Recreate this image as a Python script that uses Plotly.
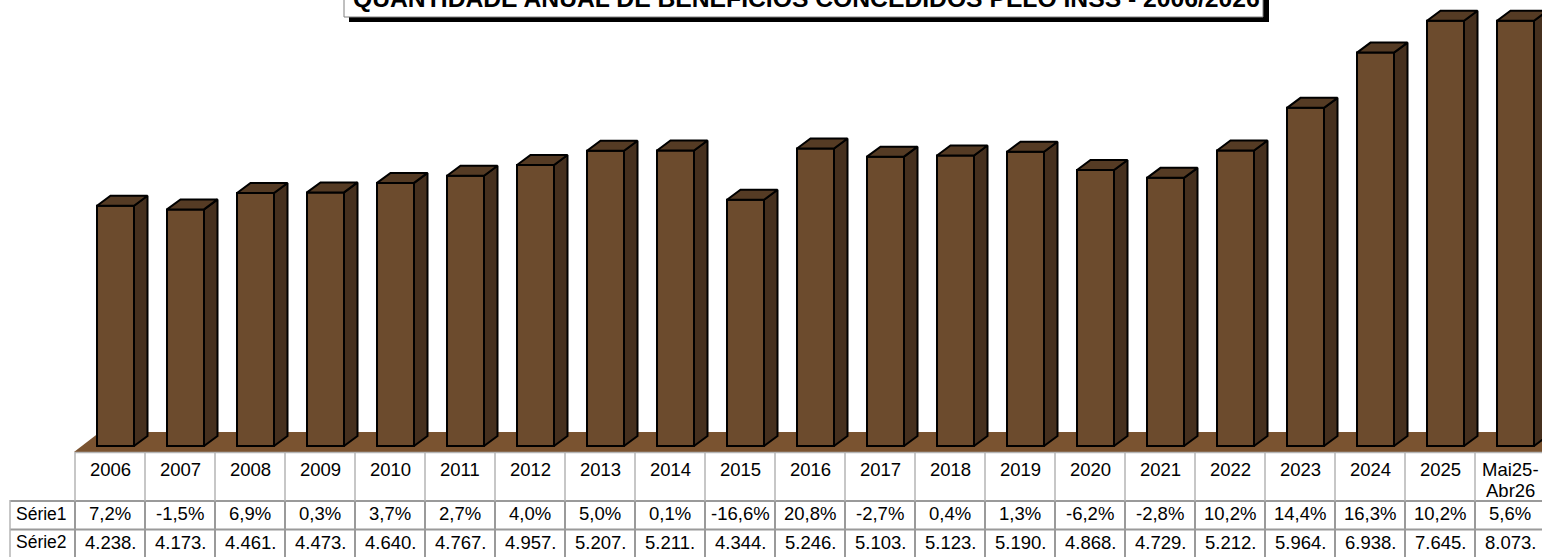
import plotly.graph_objects as go

CATEGORIES = ["2006","2007","2008","2009","2010","2011","2012","2013","2014","2015","2016",
              "2017","2018","2019","2020","2021","2022","2023","2024","2025","Mai25-<br>Abr26"]
SERIE1 = ["7,2%","-1,5%","6,9%","0,3%","3,7%","2,7%","4,0%","5,0%","0,1%","-16,6%","20,8%",
          "-2,7%","0,4%","1,3%","-6,2%","-2,8%","10,2%","14,4%","16,3%","10,2%","5,6%"]
SERIE2_LABELS = ["4.238.","4.173.","4.461.","4.473.","4.640.","4.767.","4.957.","5.207.","5.211.",
                 "4.344.","5.246.","5.103.","5.123.","5.190.","4.868.","4.729.","5.212.","5.964.",
                 "6.938.","7.645.","8.073."]
SERIE2 = [4238,4173,4461,4473,4640,4767,4957,5207,5211,4344,5246,5103,5123,5190,4868,4729,5212,5964,6938,7645,8073]
AXIS_MAX = 7500
TITLE = "QUANTIDADE ANUAL DE BENEFÍCIOS CONCEDIDOS PELO INSS - 2006/2026"

W, H = 1542, 557
CELL = 70.0            # px per category
X0 = 110.0             # px of first category centre
Y0 = 446.0             # px of value 0
PX_PER = 0.0567        # px per unit
xr = [(0 - X0) / CELL, (W - X0) / CELL]
yr = [(Y0 - H) / PX_PER, Y0 / PX_PER]

FRONT, SIDE, TOP, FLOOR = "#6c4b2d", "#46301e", "#553b24", "#7a5330"
GRID_LIGHT = "#b4b4b4"
GRID = "#9a9a9a"
FONT = "Liberation Sans"
BAR_W = 37 / CELL
BAR_OFF = 5.5 / CELL
DX = 13.5 / CELL
DY = 10 / PX_PER

def px_x(p): return (p - X0) / CELL
def px_y(p): return (Y0 - p) / PX_PER

clipped = [min(v, AXIS_MAX) for v in SERIE2]
idx = list(range(len(SERIE2)))

fig = go.Figure()
fig.add_trace(go.Bar(x=[i + BAR_OFF for i in idx], y=clipped, width=BAR_W,
                     marker=dict(color=FRONT, line=dict(color="black", width=2)), hoverinfo="skip"))
edge = dict(color="black", width=2)
for i, v in zip(idx, clipped):
    l = i + BAR_OFF - BAR_W / 2
    r = i + BAR_OFF + BAR_W / 2
    fig.add_trace(go.Scatter(x=[r, r + DX, r + DX, r, r], y=[0, DY, v + DY, v, 0], mode="lines",
                             fill="toself", fillcolor=SIDE, line=edge, hoverinfo="skip"))
    fig.add_trace(go.Scatter(x=[l, l + DX, r + DX, r, l], y=[v, v + DY, v + DY, v, v], mode="lines",
                             fill="toself", fillcolor=TOP, line=edge, hoverinfo="skip"))

shapes = []
# floor
shapes.append(dict(type="path", layer="below", xref="x", yref="y",
                   path=f"M {px_x(74)} {px_y(452)} L {px_x(100)} {px_y(432)} L {px_x(1560)} {px_y(432)} L {px_x(1560)} {px_y(452)} Z",
                   fillcolor=FLOOR, line=dict(width=0)))

def hline(a, b, y, c=GRID, w=2):
    shapes.append(dict(type="line", xref="x", yref="y", x0=px_x(a), x1=px_x(b), y0=px_y(y), y1=px_y(y),
                       line=dict(color=c, width=w)))
def vline(x, a, b, c=GRID, w=2):
    shapes.append(dict(type="line", xref="x", yref="y", x0=px_x(x), x1=px_x(x), y0=px_y(a), y1=px_y(b),
                       line=dict(color=c, width=w)))

hline(75, W, 452.5, GRID_LIGHT, 1.5)
hline(10, W, 501)
hline(10, W, 529.5)
vline(10, 500, 557, GRID_LIGHT, 1.5)
for k in range(len(CATEGORIES) + 1):
    x = 75 + CELL * k
    vline(x, 452, 501, GRID_LIGHT, 1.5)
    vline(x, 501, 557)

ann = []
def text(x_px, y_px, s, size=18.5, **kw):
    ann.append(dict(x=px_x(x_px), y=px_y(y_px), xref="x", yref="y", text=s, showarrow=False,
                    font=dict(family=FONT, size=size, color="black"), **kw))

ROW_CAT, ROW_CAT2, ROW_S1, ROW_S2 = 469, 490.5, 513.5, 542
for i, (c, a, b) in enumerate(zip(CATEGORIES, SERIE1, SERIE2_LABELS)):
    cx = X0 + CELL * i
    for line_no, part in enumerate(c.split("<br>")):
        text(cx, ROW_CAT if line_no == 0 else ROW_CAT2, part, xanchor="center", yanchor="middle")
    text(cx, ROW_S1, a, xanchor="center", yanchor="middle")
    text(cx, ROW_S2, b, xanchor="center", yanchor="middle")
text(14, ROW_S1, "Série1", size=17.5, xanchor="left", yanchor="middle")
text(14, ROW_S2, "Série2", size=17.5, xanchor="left", yanchor="middle")

# title box with shadow
shapes.append(dict(type="rect", xref="x", yref="y", x0=px_x(349), x1=px_x(1269), y0=px_y(-5), y1=px_y(22),
                   fillcolor="black", line=dict(width=0)))
shapes.append(dict(type="rect", xref="x", yref="y", x0=px_x(344), x1=px_x(1263), y0=px_y(-5), y1=px_y(17),
                   fillcolor="white", line=dict(color="#808080", width=1)))
text(806, 14, "<b>" + TITLE + "</b>", size=24.7, xanchor="center", yanchor="bottom")

fig.update_layout(width=W, height=H, margin=dict(l=0, r=0, t=0, b=0), showlegend=False,
                  paper_bgcolor="white", plot_bgcolor="white", shapes=shapes, annotations=ann,
                  xaxis=dict(range=xr, visible=False, fixedrange=True),
                  yaxis=dict(range=yr, visible=False, fixedrange=True))
fig.write_html("out.html", config={"displayModeBar": False},
               post_script="document.body.style.margin='0';document.documentElement.style.overflow='hidden';")
